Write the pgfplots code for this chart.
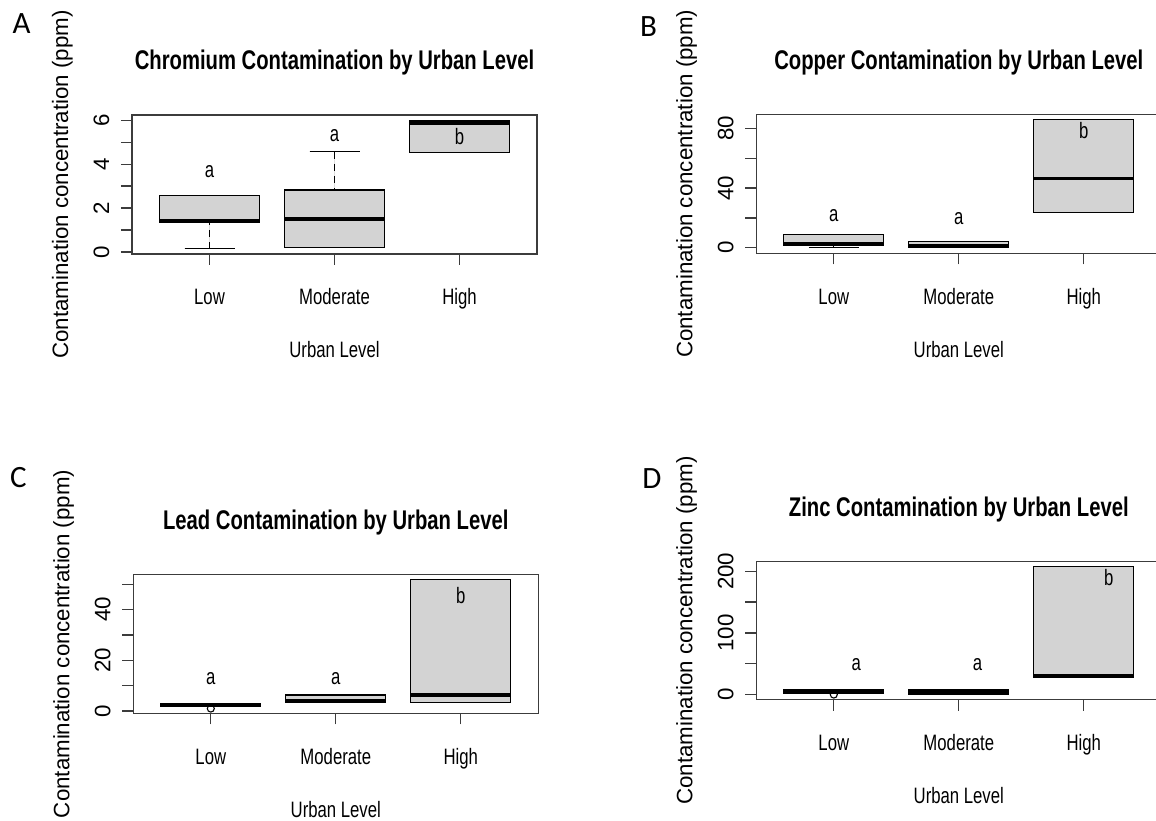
\documentclass[border=0pt]{standalone}
\usepackage{fontspec}
\setmainfont{Liberation Sans}
\newfontfamily\narrowfont{Liberation Sans}[FakeStretch=0.75]
\newfontfamily\panelfont{Carlito}
\usepackage{pgfplots}
\pgfplotsset{compat=1.18}
\usepgfplotslibrary{statistics}
\definecolor{boxfill}{HTML}{D3D3D3}
\definecolor{framec}{HTML}{3C3C3C}
\newcommand{\axf}{\fontsize{22.3pt}{26pt}\selectfont}
\newcommand{\axn}{\narrowfont\fontsize{22.3pt}{26pt}\selectfont}
\newcommand{\ttlf}{\narrowfont\bfseries\fontsize{27pt}{32pt}\selectfont}
\newcommand{\pnl}{\panelfont\fontsize{31pt}{36pt}\selectfont}
% y tick label, set rotated like R (las=0), baseline 23pt left of the frame
\newcommand{\ytl}[2]{\node[font=\axf, rotate=90, anchor=base, inner sep=0pt]
  at ([xshift=-23pt]axis cs:0.38,#1) {#2};}

\pgfplotsset{
  rpanel/.style={
    scale only axis, width=405pt, anchor=south west,
    xmin=0.38, xmax=3.62,
    xtick={1,2,3}, xticklabels={Low,Moderate,High},
    yticklabels={},
    tick pos=left, tick align=outside,
    major tick length=11pt,
    axis line style={framec, line width=1.3pt},
    every tick/.style={framec, line width=1.3pt},
    /pgf/number format/assume math mode=true,
    xticklabel style={font=\axn, anchor=base, yshift=-40pt, inner sep=0pt},
    title style={font=\ttlf, at={(axis description cs:0.5,1)}, anchor=base, yshift=39pt},
    xlabel={Urban Level},
    xlabel style={font=\axn, at={(axis description cs:0.5,0)}, anchor=base, yshift=-104pt},
    ylabel={Contamination concentration (ppm)},
    ylabel style={font=\axf, at={([xshift=-64pt]axis description cs:0,0.5)}, anchor=base},
    clip=false,
    boxplot/draw direction=y,
    boxplot/box extend=0.8,
    boxplot/whisker extend=0.4,
    boxplot/every median/.style={line width=3.5pt, black},
    boxplot/every whisker/.style={black, line width=1.1pt},
    boxplot/draw/lower whisker/.code={%
      \draw[/pgfplots/boxplot/every whisker/.try, dash pattern=on 7pt off 5pt]
        (boxplot whisker cs:\pgfplotsboxplotvalue{lower whisker},0.5) --
        (boxplot whisker cs:\pgfplotsboxplotvalue{lower quartile},0.5);
      \draw[/pgfplots/boxplot/every whisker/.try]
        (boxplot whisker cs:\pgfplotsboxplotvalue{lower whisker},0) --
        (boxplot whisker cs:\pgfplotsboxplotvalue{lower whisker},1);
    },
    boxplot/draw/upper whisker/.code={%
      \draw[/pgfplots/boxplot/every whisker/.try, dash pattern=on 7pt off 5pt]
        (boxplot whisker cs:\pgfplotsboxplotvalue{upper whisker},0.5) --
        (boxplot whisker cs:\pgfplotsboxplotvalue{upper quartile},0.5);
      \draw[/pgfplots/boxplot/every whisker/.try]
        (boxplot whisker cs:\pgfplotsboxplotvalue{upper whisker},0) --
        (boxplot whisker cs:\pgfplotsboxplotvalue{upper whisker},1);
    },
  },
  rbox/.style={draw=black, fill=boxfill, line width=1.2pt, solid,
    mark=o, mark size=3.5pt, mark options={black, line width=1.1pt, fill=none}},
}

\begin{document}
\begin{tikzpicture}
\useasboundingbox (0,0) rectangle (1156pt,821pt);
\clip (0,0) rectangle (1156pt,821pt);

% ---------------- A: Chromium ----------------
\begin{axis}[rpanel, at={(132pt,567pt)}, height=139pt,
  ymin=-0.09, ymax=6.24,
  ytick={0,1,2,3,4,5,6},
  title={Chromium Contamination by Urban Level}]
\addplot[rbox, boxplot prepared={draw position=1, lower whisker=0.15,
  lower quartile=1.35, median=1.42, upper quartile=2.58, upper whisker=2.58}] coordinates {};
\addplot[rbox, boxplot prepared={draw position=2, lower whisker=0.20,
  lower quartile=0.20, median=1.50, upper quartile=2.82, upper whisker=4.56}] coordinates {};
\addplot[rbox, boxplot prepared={draw position=3, lower whisker=4.52,
  lower quartile=4.52, median=5.87, upper quartile=6.00, upper whisker=6.00}] coordinates {};
\node[font=\axn, inner sep=0pt] at (axis cs:1,3.66) {a};
\node[font=\axn, inner sep=0pt] at (axis cs:2,5.32) {a};
\node[font=\axn, inner sep=0pt] at (axis cs:3,5.27) {b};
\ytl{0}{0}\ytl{2}{2}\ytl{4}{4}\ytl{6}{6}
\end{axis}

% ---------------- B: Copper ----------------
\begin{axis}[rpanel, at={(756.3pt,567.7pt)}, height=139pt,
  ymin=-3.7, ymax=89.5,
  ytick={0,20,40,60,80},
  title={Copper Contamination by Urban Level}]
\addplot[rbox, boxplot prepared={draw position=1, lower whisker=0,
  lower quartile=1.5, median=2.8, upper quartile=8.7, upper whisker=8.7}] coordinates {};
\addplot[rbox, boxplot prepared={draw position=2, lower whisker=0.2,
  lower quartile=0.2, median=1.2, upper quartile=4.0, upper whisker=4.0}] coordinates {};
\addplot[rbox, boxplot prepared={draw position=3, lower whisker=23.5,
  lower quartile=23.5, median=46.4, upper quartile=86.2, upper whisker=86.2}] coordinates {};
\node[font=\axn, inner sep=0pt] at (axis cs:1,21.7) {a};
\node[font=\axn, inner sep=0pt] at (axis cs:2,19.5) {a};
\node[font=\axn, inner sep=0pt] at (axis cs:3,78.9) {b};
\ytl{0}{0}\ytl{40}{40}\ytl{80}{80}
\end{axis}

% ---------------- C: Lead ----------------
\begin{axis}[rpanel, at={(133.3pt,107.5pt)}, height=139.2pt,
  ymin=-1.0, ymax=53.9,
  ytick={0,10,20,30,40,50},
  title={Lead Contamination by Urban Level}]
\addplot[rbox, boxplot prepared={draw position=1, lower whisker=1.8,
  lower quartile=1.8, median=2.35, upper quartile=2.9, upper whisker=2.9}]
  table[row sep=\\, y index=0] {0.94\\};
\addplot[rbox, boxplot prepared={draw position=2, lower whisker=3.4,
  lower quartile=3.4, median=4.0, upper quartile=6.3, upper whisker=6.3}] coordinates {};
\addplot[rbox, boxplot prepared={draw position=3, lower whisker=3.4,
  lower quartile=3.4, median=6.3, upper quartile=51.9, upper whisker=51.9}] coordinates {};
\node[font=\axn, inner sep=0pt] at (axis cs:1,12.7) {a};
\node[font=\axn, inner sep=0pt] at (axis cs:2,12.7) {a};
\node[font=\axn, inner sep=0pt] at (axis cs:3,45.4) {b};
\ytl{0}{0}\ytl{20}{20}\ytl{40}{40}
\end{axis}

% ---------------- D: Zinc ----------------
\begin{axis}[rpanel, at={(756.3pt,121.3pt)}, height=138.5pt,
  ymin=-8.3, ymax=216.3,
  ytick={0,50,100,150,200},
  title={Zinc Contamination by Urban Level}]
\addplot[rbox, boxplot prepared={draw position=1, lower whisker=2.5,
  lower quartile=2.5, median=5.0, upper quartile=8.0, upper whisker=8.0}]
  table[row sep=\\, y index=0] {0\\};
\addplot[rbox, boxplot prepared={draw position=2, lower whisker=0.5,
  lower quartile=0.5, median=4.5, upper quartile=8.5, upper whisker=8.5}] coordinates {};
\addplot[rbox, boxplot prepared={draw position=3, lower whisker=27.6,
  lower quartile=27.6, median=31.0, upper quartile=208, upper whisker=208}] coordinates {};
\node[font=\axn, inner sep=0pt] at (axis cs:1.18,48.7) {a};
\node[font=\axn, inner sep=0pt] at (axis cs:2.15,48.7) {a};
\node[font=\axn, inner sep=0pt] at (axis cs:3.2,190) {b};
\ytl{0}{0}\ytl{100}{100}\ytl{200}{200}
\end{axis}

% panel letters
\node[font=\pnl, anchor=base, inner sep=0pt] at (21.7pt,787.7pt) {A};
\node[font=\pnl, anchor=base, inner sep=0pt] at (648.5pt,784.3pt) {B};
\node[font=\pnl, anchor=base, inner sep=0pt] at (18.5pt,333pt) {C};
\node[font=\pnl, anchor=base, inner sep=0pt] at (652pt,332.7pt) {D};
\end{tikzpicture}
\end{document}
